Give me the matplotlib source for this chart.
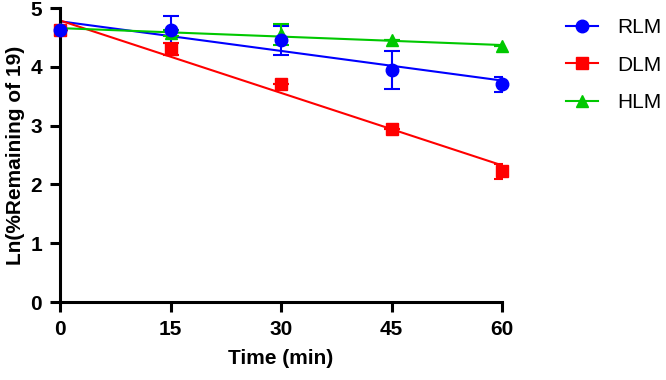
import numpy as np
import matplotlib.pyplot as plt

plt.rcParams['font.family'] = ['Liberation Sans', 'DejaVu Sans']

# Данные
time = [0, 15, 30, 45, 60]
rlm = [4.62, 4.63, 4.45, 3.95, 3.70]
rlm_err = [0.0, 0.23, 0.25, 0.32, 0.13]
dlm = [4.62, 4.30, 3.70, 2.94, 2.22]
dlm_err = [0.0, 0.10, 0.0, 0.0, 0.13]
hlm = [4.65, 4.57, 4.55, 4.45, 4.35]
hlm_err = [0.0, 0.05, 0.18, 0.0, 0.0]

labels = ["RLM", "DLM", "HLM"]
colors = ["#0000ff", "#ff0000", "#00c800"]
markers = ["o", "s", "^"]

fig = plt.figure(figsize=(6.66, 3.8), dpi=100)
ax = fig.add_axes([60 / 666, 78 / 380, 442 / 666, 294 / 380])

series = [(rlm, rlm_err), (dlm, dlm_err), (hlm, hlm_err)]
handles = []
for i, ((y, e), lab, c, m) in enumerate(zip(series, labels, colors, markers)):
    # линейная регрессия
    k, b = np.polyfit(time, y, 1)
    xs = np.array([time[0], time[-1]])
    ax.plot(xs, k * xs + b, color=c, lw=1.5, zorder=2)
    ax.errorbar(time, y, yerr=e, fmt='none', ecolor=c, elinewidth=1.5,
                capsize=6, capthick=1.5, zorder=3)
    ax.plot(time, y, linestyle='none', marker=m, color=c, ms=9,
            zorder=6 - i, clip_on=False)
    h, = ax.plot([], [], color=c, lw=1.5, marker=m, ms=9, label=lab)
    handles.append(h)

ax.set_xlim(0, 60)
ax.set_ylim(0, 5)
ax.set_xticks(time)
ax.set_yticks(range(6))
for s in ["top", "right"]:
    ax.spines[s].set_visible(False)
for s in ["left", "bottom"]:
    ax.spines[s].set_linewidth(2.2)
ax.tick_params(width=2.2, length=7, labelsize=15, pad=6)
for t in ax.get_xticklabels() + ax.get_yticklabels():
    t.set_fontweight('bold')

ax.set_xlabel("Time (min)", fontsize=15, fontweight='bold', labelpad=7)
ax.set_ylabel("Ln(%Remaining of 19)", fontsize=15, fontweight='bold', labelpad=4)

fig.legend(handles=handles, loc='upper left',
           bbox_to_anchor=(566 / 666, 1 - 18 / 380),
           borderpad=0, borderaxespad=0,
           frameon=False, fontsize=15, handlelength=1.55, labelspacing=0.9,
           handletextpad=0.9)

fig.savefig("out.png", dpi=100)
